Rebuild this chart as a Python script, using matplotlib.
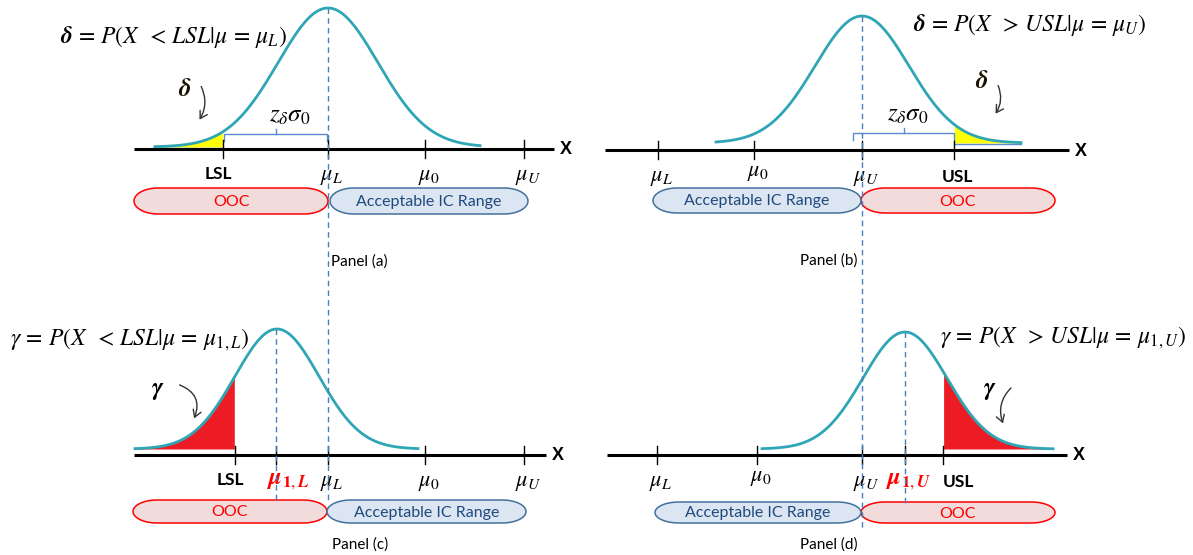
import numpy as np
import matplotlib
matplotlib.use("Agg")
import matplotlib.pyplot as plt
from matplotlib.patches import FancyArrowPatch, PathPatch
from matplotlib.path import Path

plt.rcParams['mathtext.fontset'] = 'stix'
plt.rcParams['font.family'] = ['Lato', 'DejaVu Sans']

W, H = 1193, 555

# ---- panel layout data (drawing units = pixels, y grows downwards) ----
panel_titles = ['Panel (a)', 'Panel (b)', 'Panel (c)', 'Panel (d)']
axis_start = [134, 605, 134, 607]
axis_end = [554, 1069, 546, 1067]
axis_level = [149, 150, 455, 455]

# tick marks along each horizontal axis
tick_keys_a = ['LSL', 'muL', 'mu0', 'muU']
tick_pos_a = [223, 328, 425, 524]
tick_keys_b = ['muL', 'mu0', 'muU', 'USL']
tick_pos_b = [658, 754, 862, 954]
tick_keys_c = ['LSL', 'mu1L', 'muL', 'mu0', 'muU']
tick_pos_c = [235, 276, 328, 425, 524]
tick_keys_d = ['muL', 'mu0', 'muU', 'mu1U', 'USL']
tick_pos_d = [657, 757, 862, 905, 943]

# normal curves: mean, spread, baseline, peak level, drawn range
curve_mean = [328, 862, 277, 905]
curve_sd = [50, 47, 42, 42]
curve_base = [147, 143, 449, 449]
curve_peak = [8, 16, 329, 332]
curve_from = [155, 716, 135, 762]
curve_to = [480, 1021, 418, 1053]

# shaded tail of each curve
tail_from = [155, 954, 135, 943]
tail_to = [223, 1021, 235, 1053]
tail_color = ['#FFFF00', '#FFFF00', '#ED1C24', '#ED1C24']

# region pills below each axis: (left, right) of OOC and acceptable range
ooc_span = [(134, 328), (861, 1055), (133, 327), (861, 1055)]
ic_span = [(330, 528), (653, 861), (327, 526), (655, 861)]
pill_top = [188, 188, 500, 502]
pill_height = [26, 25, 23, 21]

formulas = [
    r'$\mathbfit{\delta}\,=\,P\left(X\ \,<\,LSL|\mu\,=\,\mu_L\right)$',
    r'$\mathbfit{\delta}\,=\,P\left(X\ \,>\,USL|\mu\,=\,\mu_U\right)$',
    r'$\gamma\,=\,P\left(X\ \,<\,LSL|\mu\,=\,\mu_{1,L}\right)$',
    r'$\gamma\,=\,P\left(X\ \,>\,USL|\mu\,=\,\mu_{1,U}\right)$',
]
formula_xy = [(60, 37), (913, 25), (10, 340), (940, 338)]

tick_text = {
    'LSL': 'LSL', 'USL': 'USL',
    'muL': r'$\mu_L$', 'mu0': r'$\mu_0$', 'muU': r'$\mu_U$',
    'mu1L': r'$\mathbfit{\mu}_{\mathbf{1},\mathbfit{L}}$',
    'mu1U': r'$\mathbfit{\mu}_{\mathbf{1},\mathbfit{U}}$',
}

CURVE = '#2EA6B6'
DASH = '#4A7EBB'
BRACE = '#5B8BD0'

fig = plt.figure(figsize=(W / 100, H / 100), dpi=100)
ax = fig.add_axes([0, 0, 1, 1])
ax.set_xlim(0, W)
ax.set_ylim(H, 0)
ax.axis('off')


def draw_axis(i, keys, positions):
    y = axis_level[i]
    ax.plot([axis_start[i], axis_end[i]], [y, y], color='black', lw=2.2,
            solid_capstyle='butt', zorder=3)
    ax.text(axis_end[i] + 12, y + 1, 'X', fontsize=13, fontweight='bold',
            ha='center', va='center', family='Liberation Sans')
    for k, x in zip(keys, positions):
        ax.plot([x, x], [y - 9, y + 9], color='black', lw=1.0, zorder=3)
        if k == 'LSL':
            ax.text(x - 5, y + 25, tick_text[k], fontsize=12.5,
                    fontweight='bold', ha='center', va='center')
        elif k == 'USL':
            ax.text(x + (3 if i == 1 else 15), y + 27, tick_text[k], fontsize=12.5,
                    fontweight='bold', ha='center', va='center')
        elif k in ('mu1L', 'mu1U'):
            ax.text(x + (12 if k == 'mu1L' else 3), y + 27, tick_text[k], fontsize=17.5,
                    color='#FF0000', ha='center', va='center')
        else:
            dy = 23 if (k == 'mu0' and i in (1, 3)) else 28
            ax.text(x + 4, y + dy, tick_text[k], fontsize=16,
                    ha='center', va='center')


def draw_curve(i):
    xs = np.linspace(curve_from[i], curve_to[i], 400)
    amp = curve_base[i] - curve_peak[i]
    ys = curve_base[i] - amp * np.exp(-0.5 * ((xs - curve_mean[i]) / curve_sd[i]) ** 2)
    m = (xs >= tail_from[i]) & (xs <= tail_to[i])
    ax.fill_between(xs[m], ys[m], curve_base[i], color=tail_color[i], lw=0, zorder=1)
    if tail_color[i] == '#FFFF00':
        ax.plot([tail_from[i], tail_to[i]], [curve_base[i] + 1, curve_base[i] + 1],
                color=BRACE, lw=1.0, zorder=2)
    ax.plot(xs, ys, color=CURVE, lw=2.0, zorder=2)


def draw_pill(x0, x1, top, h, face, edge, label, tcolor):
    # flat middle with half-ellipse ends
    rx, ry = 24.0, h / 2
    cy = top + ry
    t = np.linspace(np.pi / 2, 3 * np.pi / 2, 40)
    left = np.column_stack([x0 + rx + rx * np.cos(t), cy - ry * np.sin(t)])
    t2 = np.linspace(-np.pi / 2, np.pi / 2, 40)
    right = np.column_stack([x1 - rx + rx * np.cos(t2), cy - ry * np.sin(t2)])
    verts = np.vstack([left, right, left[:1]])
    codes = [Path.MOVETO] + [Path.LINETO] * (len(verts) - 2) + [Path.CLOSEPOLY]
    ax.add_patch(PathPatch(Path(verts, codes), fc=face, ec=edge, lw=1.1, zorder=2))
    ax.text((x0 + x1) / 2, cy + 1, label, fontsize=11.5, color=tcolor,
            ha='center', va='center', zorder=3)


def draw_brace(x0, x1, y, label_x):
    xm = (x0 + x1) / 2
    ax.plot([x0, x0, x1, x1], [y + 7, y, y, y + 7], color=BRACE, lw=1.0, zorder=2)
    ax.plot([xm, xm], [y, y - 5], color=BRACE, lw=1.0, zorder=2)
    ax.text(label_x, y - 18, r'$z_{\delta}\sigma_0$', fontsize=18,
            ha='center', va='center')


def curved_arrow(p0, p1, rad):
    a = FancyArrowPatch(p0, p1, connectionstyle=f'arc3,rad={rad}',
                        arrowstyle='->,head_length=5,head_width=3',
                        color='#333333', lw=1.0, zorder=4)
    ax.add_patch(a)


all_keys = [tick_keys_a, tick_keys_b, tick_keys_c, tick_keys_d]
all_pos = [tick_pos_a, tick_pos_b, tick_pos_c, tick_pos_d]

for i in range(4):
    draw_curve(i)
    draw_axis(i, all_keys[i], all_pos[i])
    draw_pill(*ooc_span[i], pill_top[i], pill_height[i], '#F2DCDB', '#FF0000', 'OOC', '#FF0000')
    draw_pill(*ic_span[i], pill_top[i], pill_height[i], '#DCE6F2', '#41719C',
              'Acceptable IC Range', '#1F497D')
    fx, fy = formula_xy[i]
    ax.text(fx, fy, formulas[i], fontsize=17, ha='left', va='center')

# panel captions
ax.text(331, 262, panel_titles[0], fontsize=11, ha='left', va='center')
ax.text(800, 261, panel_titles[1], fontsize=11, ha='left', va='center')
ax.text(332, 545, panel_titles[2], fontsize=11, ha='left', va='center')
ax.text(800, 545, panel_titles[3], fontsize=11, ha='left', va='center')

# dashed reference lines through the means
dash_x = [328, 862, 276, 905]
dash_top = [8, 16, 329, 332]
dash_bottom = [503, 530, 503, 505]
for x, t, b in zip(dash_x, dash_top, dash_bottom):
    ax.plot([x, x], [t, b], color=DASH, lw=1.0, ls=(0, (4, 3)), zorder=5)

# braces marking z_delta * sigma_0
draw_brace(224, 327, 134, 290)
draw_brace(853, 954, 133, 908)

# tail-probability labels with arrows
ax.text(185, 89, r'$\mathbfit{\delta}$', fontsize=18, color='#1a1200', ha='center', va='center')
curved_arrow((200, 84), (198, 122), -0.3)
ax.text(982, 80, r'$\mathbfit{\delta}$', fontsize=18, color='#1a1200', ha='center', va='center')
curved_arrow((997, 83), (994, 116), -0.3)
ax.text(158, 390, r'$\mathbfit{\gamma}$', fontsize=18, ha='center', va='center')
curved_arrow((177, 384), (193, 421), -0.55)
ax.text(990, 390, r'$\mathbfit{\gamma}$', fontsize=18, ha='center', va='center')
curved_arrow((1013, 386), (1004, 426), 0.35)

fig.savefig('out.png', dpi=100)
